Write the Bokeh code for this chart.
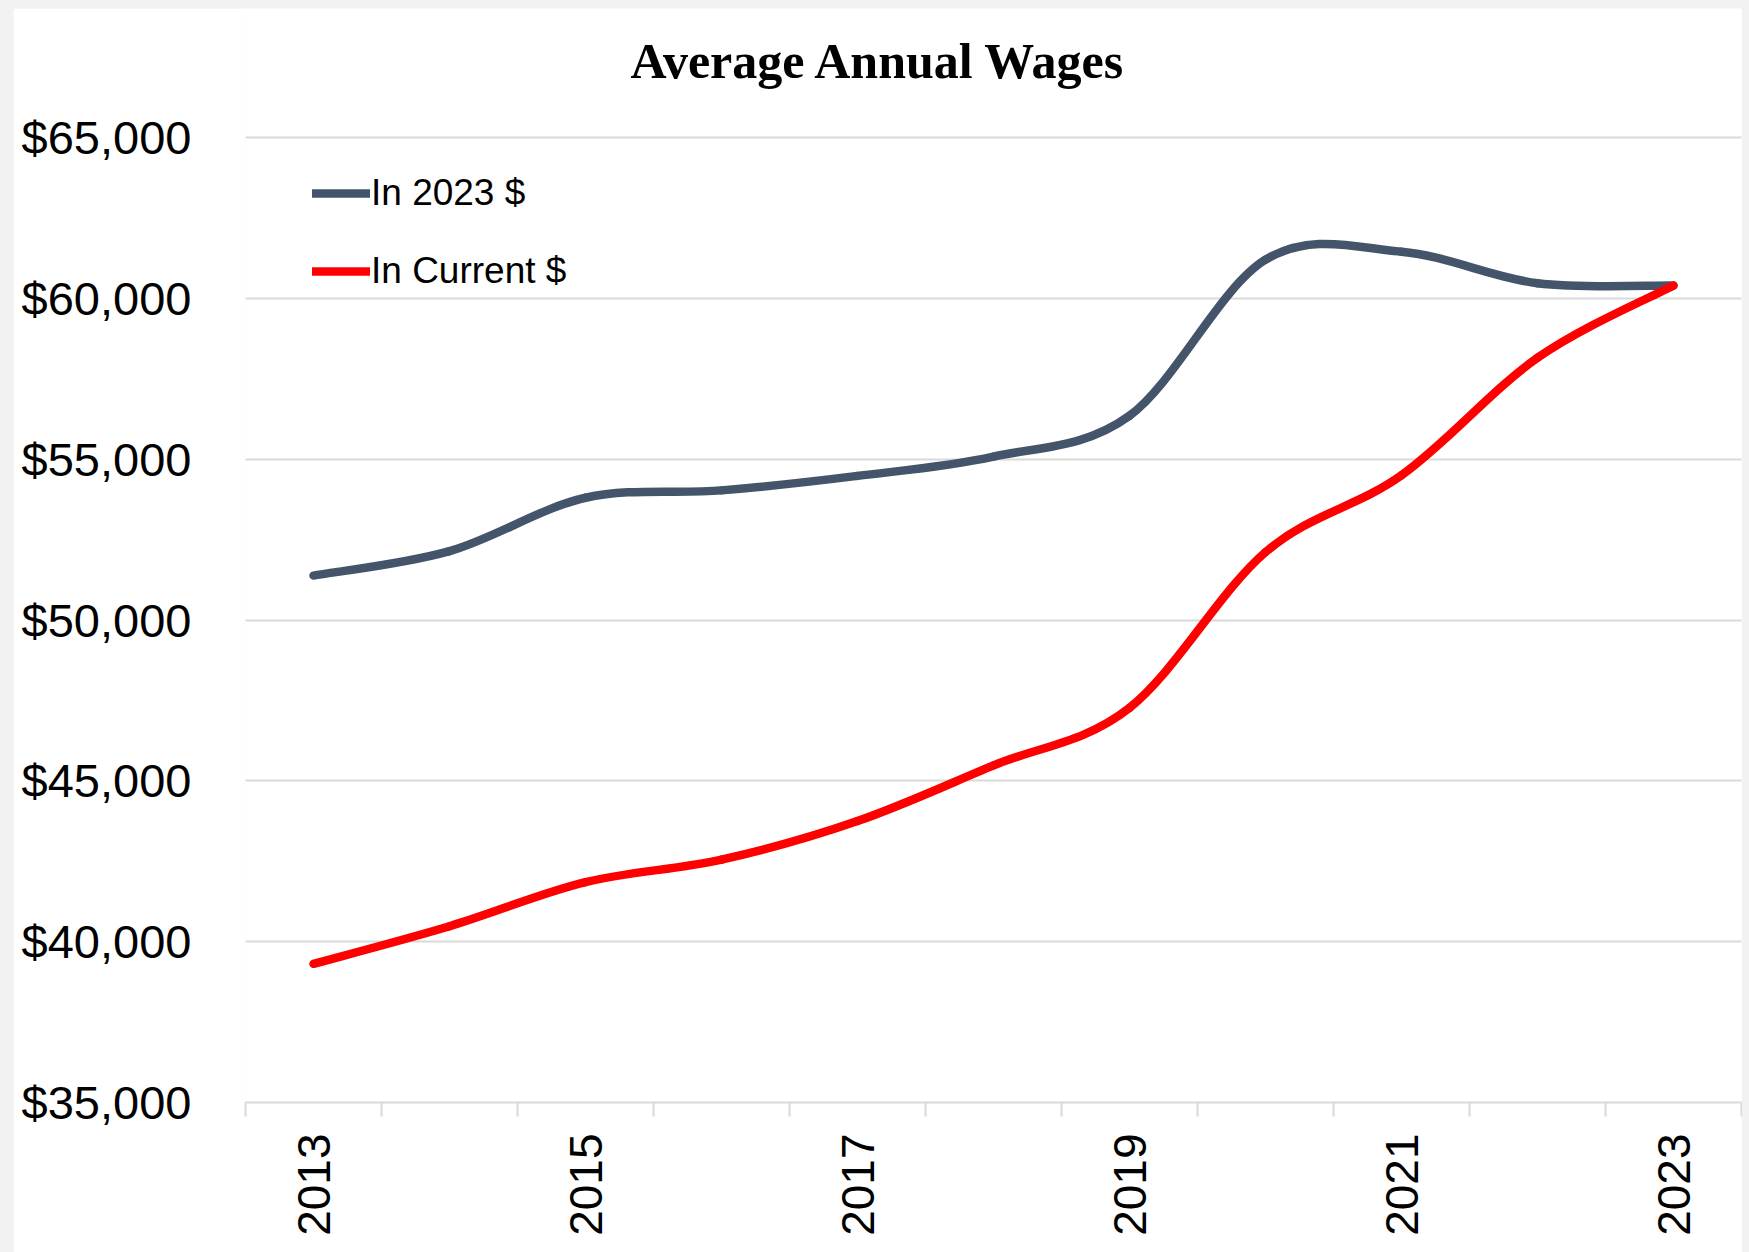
import numpy as np
from bokeh.plotting import figure
from bokeh.models import (Range1d, FixedTicker, NumeralTickFormatter, Label,
                          Legend, LegendItem, ColumnDataSource)
from bokeh.embed import file_html
from bokeh.resources import INLINE

# ---- data ----
years = [2013, 2014, 2015, 2016, 2017, 2018, 2019, 2020, 2021, 2022, 2023]
wages_2023_dollars = [51380, 52140, 53800, 54030, 54480, 55080, 56350, 61200, 61450, 60470, 60400]
wages_current_dollars = [39310, 40480, 41850, 42550, 43750, 45480, 47270, 52110, 54500, 58150, 60400]
x_label_years = [2013, 2015, 2017, 2019, 2021, 2023]
y_ticks = [35000, 40000, 45000, 50000, 55000, 60000, 65000]
series_names = ["In 2023 $", "In Current $"]
title_text = "Average Annual Wages"

GREY = "#44546a"
RED = "#ff0000"
GRID = "#d9d9d9"

# plot area: gridlines span 35,000..65,000 over 965 px; the frame extends 129 px
# higher so the title can sit inside it
Y_TOP = y_ticks[-1] + (y_ticks[-1] - y_ticks[0]) * 129 / 965


def smooth_source(xs, ys):
    """Bezier segments (Excel-like smoothed line) through the data points."""
    n = len(xs)
    d = dict(x0=[], y0=[], x1=[], y1=[], cx0=[], cy0=[], cx1=[], cy1=[])
    for i in range(n - 1):
        im1 = max(i - 1, 0)
        ip2 = min(i + 2, n - 1)
        d["x0"].append(xs[i]); d["y0"].append(ys[i])
        d["x1"].append(xs[i + 1]); d["y1"].append(ys[i + 1])
        d["cx0"].append(xs[i] + (xs[i + 1] - xs[im1]) / 6.0)
        d["cy0"].append(ys[i] + (ys[i + 1] - ys[im1]) / 6.0)
        d["cx1"].append(xs[i + 1] - (xs[ip2] - xs[i]) / 6.0)
        d["cy1"].append(ys[i + 1] - (ys[ip2] - ys[i]) / 6.0)
    return ColumnDataSource(d)


p = figure(width=1729, height=1244, output_backend="svg", toolbar_location=None,
           x_range=Range1d(years[0] - 0.5, years[-1] + 0.5),
           y_range=Range1d(y_ticks[0], Y_TOP),
           min_border_left=232, min_border_right=1, min_border_top=0, min_border_bottom=150)
p.outline_line_color = None
p.background_fill_color = "white"
p.border_fill_color = "white"

# title (inside the top strip of the frame)
title = Label(x=385, y=1042, x_units="screen", y_units="screen", text=title_text,
              text_align="left", text_baseline="alphabetic",
              text_font="Liberation Serif", text_font_style="bold",
              text_font_size="50px", text_color="black")
p.add_layout(title)

# grid
p.xgrid.grid_line_color = None
p.ygrid.grid_line_color = GRID
p.ygrid.grid_line_width = 2

# x axis: labels at every other year, tick marks between categories
xax = p.xaxis[0]
xax.ticker = FixedTicker(ticks=x_label_years,
                         minor_ticks=[y - 0.5 for y in years] + [years[-1] + 0.5])
xax.major_tick_line_color = None
xax.major_tick_out = 0
xax.major_tick_in = 0
xax.minor_tick_line_color = GRID
xax.minor_tick_line_width = 2
xax.minor_tick_out = 14
xax.minor_tick_in = 0
xax.axis_line_color = GRID
xax.axis_line_width = 2
xax.major_label_orientation = np.pi / 2
xax.major_label_text_font = "Liberation Sans"
xax.major_label_text_font_size = "46px"
xax.major_label_text_color = "black"
xax.major_label_standoff = 17

# y axis
yax = p.yaxis[0]
yax.ticker = FixedTicker(ticks=y_ticks, minor_ticks=[])
yax.formatter = NumeralTickFormatter(format="$0,0")
yax.axis_line_color = None
yax.major_tick_line_color = None
yax.minor_tick_line_color = None
yax.major_tick_out = 0
yax.major_tick_in = 0
yax.major_label_text_font = "Liberation Sans"
yax.major_label_text_font_size = "47px"
yax.major_label_text_color = "black"
yax.major_label_standoff = 54

# lines
r1 = p.bezier(x0="x0", y0="y0", x1="x1", y1="y1", cx0="cx0", cy0="cy0", cx1="cx1", cy1="cy1",
              source=smooth_source(years, wages_2023_dollars),
              line_color=GREY, line_width=8.5, line_cap="round")
r2 = p.bezier(x0="x0", y0="y0", x1="x1", y1="y1", cx0="cx0", cy0="cy0", cx1="cx1", cy1="cy1",
              source=smooth_source(years, wages_current_dollars),
              line_color=RED, line_width=8.5, line_cap="round")

legend = Legend(items=[LegendItem(label=series_names[0], renderers=[r1]),
                       LegendItem(label=series_names[1], renderers=[r2])],
                location=(67, 810), orientation="vertical",
                glyph_width=58, glyph_height=40, label_height=40, spacing=36,
                label_standoff=1, padding=0, margin=0,
                label_text_font="Liberation Sans", label_text_font_size="37px",
                label_text_color="black",
                border_line_color=None, background_fill_alpha=0)
p.add_layout(legend, "center")

html = file_html(p, INLINE)
style = "<style>html, body { background: #f2f2f2 !important; } body { padding: 8px 0 0 13px !important; }</style>"
html = html.replace("</head>", style + "\n</head>", 1)
open("out.html", "w").write(html)
